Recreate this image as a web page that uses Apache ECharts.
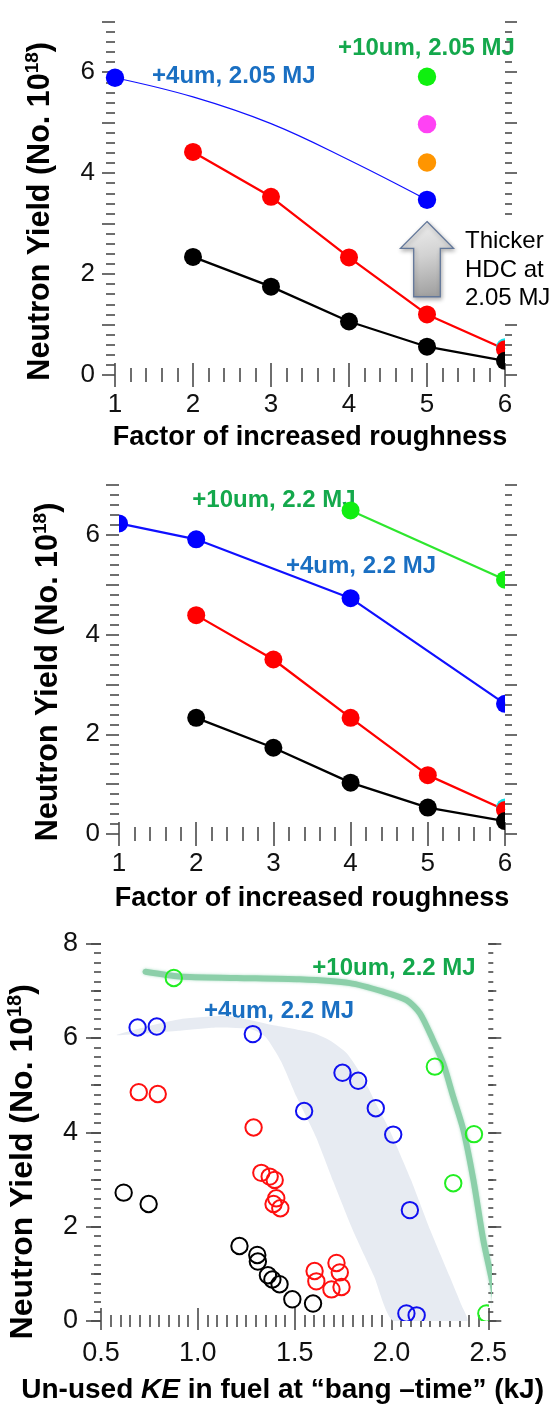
<!DOCTYPE html>
<html><head><meta charset="utf-8">
<script src="https://cdn.jsdelivr.net/npm/echarts@6.0.0/dist/echarts.min.js"></script>
<style>html,body{margin:0;padding:0;background:#fff}#c{width:556px;height:1406px}</style>
</head><body><div id="c"></div>
<script>
// ---------- Panel 1 (2.05 MJ) ----------
const roughnessFactor = [2, 3, 4, 5, 6];
const p1BlackYield = [2.34, 1.75, 1.06, 0.56, 0.28];
const p1RedYield = [4.42, 3.53, 2.33, 1.20, 0.51];
const p1BlueFactor = [1, 5];
const p1BlueYield = [5.89, 3.47];
const p1BlueCurveFactor = [1, 2, 3, 4, 5];
const p1BlueCurveYield = [5.89, 5.51, 4.98, 4.26, 3.47];
const p1ThickFactor = [5, 5, 5];
const p1ThickYield = [5.91, 4.97, 4.21];
const p1CyanFactor = [6];
const p1CyanYield = [0.55];
const hdcArrow = { factor: 5, tipYield: 3.04, neckYield: 2.51, tailYield: 1.55 };

// ---------- Panel 2 (2.2 MJ) ----------
const p2BlackYield = [2.33, 1.73, 1.03, 0.53, 0.26];
const p2RedYield = [4.39, 3.50, 2.33, 1.18, 0.48];
const p2BlueFactor = [1, 2, 4, 6];
const p2BlueYield = [6.23, 5.91, 4.73, 2.61];
const p2GreenFactor = [4, 6];
const p2GreenYield = [6.49, 5.10];
const p2CyanFactor = [6];
const p2CyanYield = [0.53];

// ---------- Panel 3 (yield vs unused KE) ----------
const green3KE = [0.876, 2.224, 2.426, 2.319, 2.49];
const green3Yield = [7.27, 5.39, 3.96, 2.92, 0.16];
const blue3KE = [0.689, 0.788, 1.284, 1.549, 1.747, 1.828, 1.919, 2.009, 2.095, 2.130, 2.077];
const blue3Yield = [6.22, 6.24, 6.08, 4.45, 5.26, 5.09, 4.51, 3.95, 2.35, 0.12, 0.16];
const red3KE = [0.695, 0.793, 1.288, 1.328, 1.371, 1.397, 1.405, 1.391, 1.426, 1.603, 1.612, 1.716, 1.733, 1.690, 1.742];
const red3Yield = [4.85, 4.81, 4.10, 3.14, 3.06, 2.99, 2.60, 2.48, 2.39, 1.06, 0.84, 1.23, 1.03, 0.67, 0.72];
const black3KE = [0.617, 0.746, 1.215, 1.307, 1.310, 1.362, 1.385, 1.422, 1.488, 1.595];
const black3Yield = [2.72, 2.48, 1.59, 1.40, 1.26, 0.97, 0.88, 0.78, 0.46, 0.37];
const trendKE = [0.73, 0.905, 1.2, 1.526, 1.785, 1.957, 2.078, 2.147, 2.215, 2.267, 2.319, 2.371, 2.423, 2.474, 2.518, 2.543];
const trendYield = [7.40, 7.30, 7.27, 7.24, 7.16, 6.98, 6.80, 6.52, 5.95, 5.46, 4.75, 4.05, 2.99, 1.72, 0.87, 0.30];
const bandKE = [0.58, 0.90, 1.16, 1.40, 1.60, 1.68, 1.77, 1.85, 1.92, 1.99, 2.10, 2.20, 2.30, 2.36, 2.39, 2.01, 1.91, 1.80, 1.70, 1.61, 1.51, 1.43, 1.35, 1.28, 1.10, 0.90];
const bandYield = [6.06, 6.39, 6.46, 6.26, 6.10, 5.95, 5.67, 5.18, 4.61, 4.05, 3.00, 1.93, 0.95, 0.35, 0.0, 0.0, 0.95, 1.93, 2.95, 3.90, 4.75, 5.50, 6.02, 6.18, 6.22, 6.15];

// ---------- helpers ----------
const FF = '"Liberation Sans", Arial, Helvetica, sans-serif';
const TICK = '#4a4a4a';
const BLUE_TXT = '#1a6fc2';
const GREEN_TXT = '#14a84c';
const pts = (xs, ys) => xs.map((x, i) => [x, ys[i]]);

function axisBase(gridIndex, position, min, max, interval, tickLen, minorSplit, minorLen) {
  return {
    type: 'value', gridIndex, position, min, max, interval,
    axisLine: { show: false }, splitLine: { show: false }, minorSplitLine: { show: false },
    axisTick: { show: true, inside: false, length: tickLen, lineStyle: { color: TICK, width: 1.6 } },
    minorTick: { show: minorSplit > 0, splitNumber: minorSplit || 5, length: minorLen || 1, lineStyle: { color: TICK, width: 1.6 } },
    axisLabel: { show: false },
    nameMoveOverlap: false
  };
}
function withLabels(ax, fontSize, margin, formatter) {
  ax.axisLabel = { show: true, fontSize, margin, color: '#111', fontFamily: FF, formatter };
  return ax;
}
function withName(ax, name, fontSize, gap, padding, rich) {
  ax.name = name; ax.nameLocation = 'middle'; ax.nameGap = gap;
  ax.nameTextStyle = { fontSize, fontWeight: 'bold', color: '#000', fontFamily: FF, padding, rich, lineHeight: fontSize + 4 };
  return ax;
}
const evenOnly = v => (Math.round(v) % 2 === 0 ? String(Math.round(v)) : '');
const yRich = (fs) => ({ sup: { fontSize: fs, fontWeight: 'bold', fontFamily: FF, color: '#000', verticalAlign: 'top', lineHeight: fs + 2 } });

function lineSeries(gi, data, color, width, extra) {
  return Object.assign({ type: 'line', xAxisIndex: 2 * gi, yAxisIndex: 2 * gi, data, showSymbol: false, symbol: 'none',
    lineStyle: { color, width }, itemStyle: { color }, z: 2, silent: true, animation: false }, extra || {});
}
function dotSeries(gi, data, r, fill, stroke, lw, clip) {
  return { type: 'custom', xAxisIndex: 2 * gi, yAxisIndex: 2 * gi, data, clip, z: 3, silent: true, animation: false,
    renderItem: (params, api) => {
      const c = api.coord([api.value(0), api.value(1)]);
      return { type: 'circle', shape: { cx: c[0], cy: c[1], r }, style: { fill, stroke, lineWidth: lw } };
    } };
}

const xAxes = [
  withName(withLabels(axisBase(0, 'bottom', 1, 6, 1, 12, 5, 7), 26, 17), 'Factor of increased roughness', 27, 47.5, [0, 0, 0, 0]),
  axisBase(0, 'top', 1, 6, 1, 12, 5, 7),
  withName(withLabels(axisBase(1, 'bottom', 1, 6, 1, 12, 5, 7), 26, 17), 'Factor of increased roughness', 27, 49, [0, 0, 0, 0]),
  axisBase(1, 'top', 1, 6, 1, 12, 5, 7),
  withName(withLabels(axisBase(2, 'bottom', 0.5, 2.5, 0.5, 9, 10, 6), 27, 19, v => v.toFixed(1)),
    'Un-used {i|KE} in fuel at \u201cbang \u2013time\u201d (kJ)', 28, 53, [0, 24, 0, 0],
    { i: { fontStyle: 'italic', fontWeight: 'bold', fontSize: 28, fontFamily: FF, color: '#000' } }),
  axisBase(2, 'top', 0.5, 2.5, 0.5, 13, 10, 6)
];
const yAxes = [
  withName(withLabels(axisBase(0, 'left', 0, 7, 1, 13, 5, 9), 26, 20, evenOnly), 'Neutron Yield (No. 10{sup|18})', 30.5, 57, [0, 26, 0, 0], yRich(19)),
  axisBase(0, 'right', 0, 7, 1, 12, 5, 7),
  withName(withLabels(axisBase(1, 'left', 0, 7, 1, 13, 5, 9), 26, 19, evenOnly), 'Neutron Yield (No. 10{sup|18})', 30.5, 53, [0, 25, 0, 0], yRich(19)),
  axisBase(1, 'right', 0, 7, 1, 12, 5, 7),
  withName(withLabels(axisBase(2, 'left', 0, 8, 2, 15, 10, 7), 27, 23), 'Neutron Yield (No. 10{sup|18})', 32, 60, [0, 59, 0, 0], yRich(20)),
  axisBase(2, 'right', 0, 8, 2, 13, 10, 5),
  axisBase(2, 'left', 0, 8, 1, 10, 0),
  axisBase(2, 'right', 0, 8, 1, 8, 0)
];

const series = [
  // panel 1
  lineSeries(0, pts(roughnessFactor, p1BlackYield), '#000000', 2.3),
  lineSeries(0, pts(roughnessFactor, p1RedYield), '#ff0000', 2.3),
  lineSeries(0, pts(p1BlueCurveFactor, p1BlueCurveYield), '#1010ff', 1.2, { smooth: 0.4, clip: false }),
  dotSeries(0, pts(p1CyanFactor, p1CyanYield), 9, '#10e0e8', null, 0, true),
  dotSeries(0, pts(roughnessFactor, p1RedYield), 9, '#ff0000', null, 0, true),
  dotSeries(0, pts(roughnessFactor, p1BlackYield), 9, '#000000', null, 0, true),
  dotSeries(0, pts(p1BlueFactor, p1BlueYield), 9.2, '#0000ff', null, 0, false),
  dotSeries(0, [[p1ThickFactor[0], p1ThickYield[0]]], 9.2, '#0ff00f', null, 0, false),
  dotSeries(0, [[p1ThickFactor[1], p1ThickYield[1]]], 9.2, '#ff42f4', null, 0, false),
  dotSeries(0, [[p1ThickFactor[2], p1ThickYield[2]]], 9.2, '#ff9500', null, 0, false),
  { type: 'custom', xAxisIndex: 0, yAxisIndex: 0, data: [[hdcArrow.factor, hdcArrow.tipYield]], clip: false, z: 4, silent: true, animation: false,
    renderItem: (params, api) => {
      const t = api.coord([hdcArrow.factor, hdcArrow.tipYield]);
      const n = api.coord([hdcArrow.factor, hdcArrow.neckYield]);
      const b = api.coord([hdcArrow.factor, hdcArrow.tailYield]);
      const cx = t[0], hw = 26.5, sw = 13.3;
      return { type: 'polygon', shape: { points: [[cx, t[1]], [cx + hw, n[1]], [cx + sw, n[1]], [cx + sw, b[1]], [cx - sw, b[1]], [cx - sw, n[1]], [cx - hw, n[1]]] },
        style: { fill: new echarts.graphic.LinearGradient(0, 0, 0.3, 1, [{ offset: 0, color: '#f2f2f2' }, { offset: 0.5, color: '#d2d2d2' }, { offset: 1, color: '#a2a2a2' }]),
          stroke: '#62779a', lineWidth: 1.3, shadowBlur: 4, shadowColor: 'rgba(0,0,0,0.3)', shadowOffsetX: 1, shadowOffsetY: 2 } };
    } },
  // panel 2
  lineSeries(1, pts(roughnessFactor, p2BlackYield), '#000000', 2.3),
  lineSeries(1, pts(roughnessFactor, p2RedYield), '#ff0000', 2.3),
  lineSeries(1, pts(p2BlueFactor, p2BlueYield), '#1010ff', 2.2),
  lineSeries(1, pts(p2GreenFactor, p2GreenYield), '#2ee62e', 2.2),
  dotSeries(1, pts(p2CyanFactor, p2CyanYield), 9, '#10e0e8', null, 0, true),
  dotSeries(1, pts(roughnessFactor, p2RedYield), 9, '#ff0000', null, 0, true),
  dotSeries(1, pts(roughnessFactor, p2BlackYield), 9, '#000000', null, 0, true),
  dotSeries(1, pts(p2BlueFactor, p2BlueYield), 9, '#0000ff', null, 0, true),
  dotSeries(1, pts(p2GreenFactor, p2GreenYield), 9, '#11ee11', null, 0, true),
  // panel 3
  { type: 'custom', xAxisIndex: 4, yAxisIndex: 4, data: [[bandKE[0], bandYield[0]]], clip: true, z: 1, silent: true, animation: false,
    renderItem: (params, api) => ({ type: 'polygon', shape: { points: bandKE.map((x, i) => api.coord([x, bandYield[i]])), smooth: 0.2 },
      style: { fill: '#e7ebf2' } }) },
  lineSeries(2, pts(trendKE, trendYield), '#8ccfa9', 6, { smooth: 0.25, clip: false,
    lineStyle: { color: '#8ccfa9', width: 6, cap: 'round', join: 'round', shadowBlur: 3, shadowColor: 'rgba(120,200,160,0.6)' } }),
  dotSeries(2, pts(black3KE, black3Yield), 8.2, 'none', '#000000', 2, true),
  dotSeries(2, pts(red3KE, red3Yield), 8.2, 'none', '#ff1010', 2, true),
  dotSeries(2, pts(blue3KE, blue3Yield), 8.2, 'none', '#1010f0', 2, true),
  dotSeries(2, pts(green3KE, green3Yield), 8.2, 'none', '#22ee22', 2, true)
];

const annFont = 'bold 24px ' + FF;
const graphic = [
  { type: 'text', x: 233.8, y: 76, z: 1, style: { text: '+4um, 2.05 MJ', font: annFont, fill: BLUE_TXT, align: 'center', verticalAlign: 'middle' } },
  { type: 'text', x: 426.5, y: 48.3, z: 1, style: { text: '+10um, 2.05 MJ', font: annFont, fill: GREEN_TXT, align: 'center', verticalAlign: 'middle' } },
  { type: 'text', x: 460, y: 217.5, z: 100, style: { text: 'Thicker\nHDC at\n2.05 MJ', font: '24px ' + FF, lineHeight: 28.3, fill: '#000', align: 'left', verticalAlign: 'top', backgroundColor: '#ffffff', padding: [10, 10, 10, 5] } },
  { type: 'text', x: 274, y: 500, z: 1, style: { text: '+10um, 2.2 MJ', font: annFont, fill: GREEN_TXT, align: 'center', verticalAlign: 'middle' } },
  { type: 'text', x: 361, y: 566, z: 1, style: { text: '+4um, 2.2 MJ', font: annFont, fill: BLUE_TXT, align: 'center', verticalAlign: 'middle' } },
  { type: 'text', x: 394, y: 968.3, z: 1, style: { text: '+10um, 2.2 MJ', font: annFont, fill: GREEN_TXT, align: 'center', verticalAlign: 'middle' } },
  { type: 'text', x: 279, y: 1011.7, z: 1, style: { text: '+4um, 2.2 MJ', font: annFont, fill: BLUE_TXT, align: 'center', verticalAlign: 'middle' } }
];

const chart = echarts.init(document.getElementById('c'), null, { width: 556, height: 1406 });
chart.setOption({
  animation: false,
  backgroundColor: '#ffffff',
  textStyle: { fontFamily: FF },
  grid: [
    { left: 115, top: 21.7, width: 390, height: 353.3, outerBoundsMode: 'none', containLabel: false },
    { left: 119, top: 485, width: 386, height: 349, outerBoundsMode: 'none', containLabel: false },
    { left: 101, top: 943.5, width: 387.3, height: 377.5, outerBoundsMode: 'none', containLabel: false }
  ],
  xAxis: xAxes,
  yAxis: yAxes,
  series,
  graphic
});
</script>
</body></html>
